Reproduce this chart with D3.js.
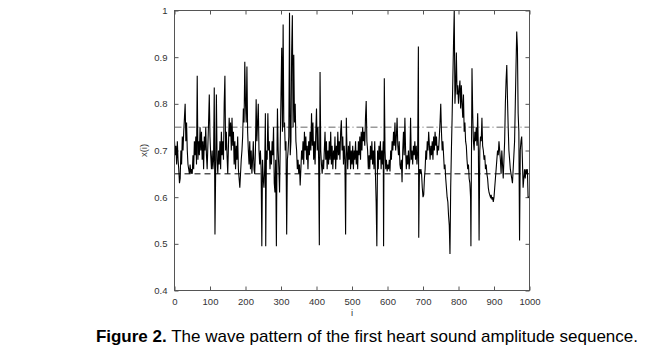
<!DOCTYPE html>
<html><head><meta charset="utf-8">
<script src="https://cdn.jsdelivr.net/npm/d3@7/dist/d3.min.js"></script>
<style>body{margin:0;background:#fff;}svg{display:block;}</style>
</head><body>
<script>
// ---- data ----
const sampleIndex = [0,2,4,6,8,10,12,14,16,18,20,22,24,26,28,30,32,34,36,38,40,42,44,46,48,50,52,54,56,58,60,62,64,66,68,70,72,74,76,78,80,82,84,86,88,90,92,94,96,98,
100,102,104,106,108,110,112,114,116,118,120,122,124,126,128,130,132,134,136,138,140,142,144,146,148,150,152,154,156,158,160,162,164,166,168,170,172,174,176,178,180,182,184,186,188,190,192,194,196,198,
200,202,204,206,208,210,212,214,216,218,220,222,224,226,228,230,232,234,236,238,240,242,244,246,248,250,252,254,256,257,259,261,263,265,267,269,271,273,275,277,279,281,283,285,287,289,290,292,294,296,298,
300,302,304,306,308,310,312,314,316,318,320,322,324,326,328,330,332,334,336,338,340,342,344,346,348,350,352,354,356,358,360,362,364,366,368,370,372,374,376,378,380,382,384,386,388,390,392,394,396,398,
400,402,404,406,408,410,412,414,416,418,420,422,424,426,428,430,432,434,436,438,440,442,444,446,448,450,452,454,456,458,460,462,464,466,468,470,472,474,476,478,480,482,484,486,488,490,492,494,496,498,
500,502,504,506,508,510,512,514,516,518,520,522,524,526,528,530,532,534,536,538,540,542,544,546,548,550,552,554,556,558,560,562,564,566,568,570,572,574,576,578,580,582,584,586,588,589,591,593,595,597,599,
601,603,605,607,609,611,613,615,617,619,621,623,625,627,629,631,633,635,637,639,641,643,645,647,649,651,653,655,657,659,661,663,665,667,669,671,673,675,677,679,681,683,685,687,688,690,692,694,696,698,
700,702,704,706,708,710,712,714,716,718,720,722,724,726,728,730,732,734,736,738,740,742,744,746,748,750,752,754,756,758,760,762,764,766,768,770,772,774,776,778,780,782,784,786,788,790,792,794,796,798,
800,802,804,806,808,810,812,814,816,818,820,822,824,826,828,830,832,834,835,838,840,842,844,846,848,850,852,854,856,858,860,862,864,866,868,870,872,874,876,878,880,882,884,886,888,890,892,894,896,898,
900,902,904,906,908,910,912,914,916,918,920,922,924,926,928,930,932,934,936,938,940,942,944,946,948,950,952,954,956,958,960,962,964,966,968,970,972,974,976,978,980,982,984,986,988,990,992,994,996,1000];

const amplitude = [0.72,0.69,0.71,0.67,0.72,0.68,0.66,0.63,0.64,0.70,0.67,0.73,0.70,0.74,0.77,0.80,0.72,0.76,0.70,0.67,0.66,0.65,0.67,0.65,0.66,0.65,0.69,0.66,0.72,0.69,0.73,0.67,0.86,0.68,0.72,0.69,0.75,0.70,0.74,0.68,0.72,0.66,0.73,0.70,0.75,0.69,0.66,0.71,0.76,0.82,
0.73,0.69,0.66,0.70,0.66,0.68,0.835,0.52,0.66,0.82,0.68,0.65,0.70,0.67,0.72,0.66,0.74,0.69,0.72,0.68,0.80,0.86,0.70,0.74,0.69,0.65,0.71,0.77,0.73,0.76,0.70,0.77,0.71,0.74,0.67,0.72,0.66,0.71,0.68,0.73,0.66,0.64,0.62,0.65,0.68,0.70,0.73,0.79,0.76,0.89,
0.80,0.76,0.88,0.74,0.70,0.67,0.72,0.66,0.70,0.65,0.68,0.72,0.66,0.65,0.70,0.81,0.72,0.76,0.80,0.70,0.67,0.70,0.66,0.495,0.68,0.64,0.62,0.66,0.78,0.495,0.70,0.68,0.78,0.70,0.72,0.66,0.70,0.67,0.72,0.69,0.75,0.63,0.61,0.68,0.495,0.72,0.79,0.70,0.66,0.61,0.72,
0.82,0.92,0.74,0.97,0.75,0.76,0.70,0.72,0.52,0.68,0.70,0.73,0.995,0.69,0.72,0.91,0.99,0.75,0.905,0.76,0.80,0.72,0.70,0.66,0.68,0.65,0.67,0.625,0.66,0.70,0.68,0.72,0.67,0.74,0.70,0.73,0.68,0.71,0.66,0.72,0.69,0.74,0.70,0.78,0.71,0.76,0.68,0.72,0.67,0.74,
0.79,0.70,0.75,0.68,0.497,0.868,0.70,0.67,0.65,0.68,0.66,0.70,0.74,0.68,0.72,0.66,0.70,0.67,0.72,0.68,0.74,0.67,0.71,0.66,0.70,0.68,0.73,0.66,0.71,0.68,0.74,0.69,0.72,0.68,0.74,0.765,0.70,0.73,0.67,0.71,0.68,0.52,0.77,0.70,0.66,0.71,0.68,0.72,0.66,0.70,
0.67,0.71,0.66,0.70,0.68,0.72,0.67,0.70,0.66,0.72,0.69,0.73,0.68,0.74,0.70,0.75,0.72,0.74,0.71,0.77,0.806,0.72,0.70,0.66,0.69,0.66,0.71,0.68,0.72,0.67,0.70,0.66,0.72,0.65,0.59,0.495,0.70,0.66,0.71,0.68,0.72,0.66,0.70,0.67,0.72,0.495,0.855,0.70,0.66,0.68,0.655,
0.67,0.66,0.68,0.655,0.70,0.68,0.72,0.70,0.74,0.71,0.76,0.70,0.73,0.77,0.71,0.69,0.72,0.67,0.66,0.68,0.632,0.70,0.74,0.69,0.77,0.70,0.66,0.69,0.67,0.70,0.66,0.68,0.77,0.68,0.70,0.67,0.71,0.69,0.72,0.68,0.71,0.67,0.70,0.923,0.513,0.66,0.65,0.66,0.65,0.62,
0.60,0.605,0.64,0.66,0.70,0.68,0.72,0.70,0.74,0.71,0.68,0.71,0.69,0.72,0.68,0.73,0.70,0.74,0.71,0.73,0.69,0.71,0.70,0.73,0.76,0.80,0.74,0.70,0.72,0.69,0.66,0.67,0.64,0.62,0.60,0.59,0.56,0.54,0.478,0.62,0.70,0.77,0.85,0.93,1.0,0.80,0.84,0.91,0.82,0.84,
0.80,0.83,0.85,0.79,0.84,0.80,0.77,0.82,0.74,0.76,0.72,0.71,0.68,0.66,0.67,0.64,0.63,0.60,0.495,0.876,0.78,0.72,0.70,0.74,0.72,0.75,0.71,0.78,0.70,0.507,0.70,0.73,0.72,0.77,0.71,0.70,0.68,0.69,0.66,0.67,0.65,0.64,0.62,0.61,0.605,0.60,0.605,0.595,0.60,0.59,
0.60,0.62,0.64,0.66,0.68,0.70,0.69,0.72,0.70,0.68,0.65,0.70,0.67,0.64,0.68,0.72,0.80,0.85,0.883,0.81,0.75,0.70,0.68,0.66,0.65,0.64,0.63,0.66,0.69,0.72,0.80,0.88,0.955,0.92,0.78,0.74,0.507,0.70,0.72,0.73,0.68,0.62,0.64,0.66,0.64,0.66,0.65,0.66,0.60,0.60];

const xTicks = [0,100,200,300,400,500,600,700,800,900,1000];
const yTicks = [0.4,0.5,0.6,0.7,0.8,0.9,1];
const upperLevel = 0.75;
const lowerLevel = 0.65;
const xLabel = "i";
const yLabel = "x(i)";
const captionBold = "Figure 2.";
const captionText = " The wave pattern of the first heart sound amplitude sequence.";

// ---- drawing ----
const W = 652, H = 355;
const L = 174.5, R = 529.5, T = 10.5, B = 290.5;
const svg = d3.select("body").append("svg").attr("width", W).attr("height", H);

const x = d3.scaleLinear().domain([0, 1000]).range([L, R]);
const y = d3.scaleLinear().domain([0.4, 1]).range([B, T]);

const axisColor = "#555";
const labelColor = "#333";
const tickFont = "9.5px 'Liberation Sans', Arial, sans-serif";

function styleAxis(g) {
  g.select(".domain").remove();
  g.selectAll(".tick line").attr("stroke", axisColor);
  g.selectAll(".tick text").attr("fill", labelColor).style("font", tickFont);
}

svg.append("g").attr("transform", `translate(0,${B})`)
  .call(d3.axisBottom(x).tickValues(xTicks).tickSizeInner(-4).tickSizeOuter(0).tickPadding(8).tickFormat(d3.format("d")))
  .call(styleAxis);
svg.append("g").attr("transform", `translate(0,${T})`)
  .call(d3.axisTop(x).tickValues(xTicks).tickSizeInner(-4).tickSizeOuter(0).tickFormat(""))
  .call(styleAxis);
svg.append("g").attr("transform", `translate(${L},0)`)
  .call(d3.axisLeft(y).tickValues(yTicks).tickSizeInner(-4).tickSizeOuter(0).tickPadding(7).tickFormat(d => d === 1 ? "1" : d3.format(".1f")(d)))
  .call(styleAxis);
svg.append("g").attr("transform", `translate(${R},0)`)
  .call(d3.axisRight(y).tickValues(yTicks).tickSizeInner(-4).tickSizeOuter(0).tickFormat(""))
  .call(styleAxis);

// reference levels
svg.append("line").attr("x1", x(0)).attr("x2", x(1000)).attr("y1", y(upperLevel)).attr("y2", y(upperLevel))
  .attr("stroke", "#666").attr("stroke-width", 1).attr("stroke-dasharray", "7,3,1,3");
svg.append("line").attr("x1", x(0)).attr("x2", x(1000)).attr("y1", y(lowerLevel)).attr("y2", y(lowerLevel))
  .attr("stroke", "#000").attr("stroke-width", 1).attr("stroke-dasharray", "6,4");

// series
const pts = sampleIndex.map((d, k) => [d, amplitude[k]]);
svg.append("path").datum(pts)
  .attr("fill", "none").attr("stroke", "#000").attr("stroke-width", 1.1)
  .attr("d", d3.line().x(d => x(d[0])).y(d => y(d[1])));

// box
svg.append("rect").attr("x", L).attr("y", T).attr("width", R - L).attr("height", B - T)
  .attr("fill", "none").attr("stroke", axisColor).attr("stroke-width", 1);

// axis labels
svg.append("text").attr("x", (L + R) / 2).attr("y", 316).attr("text-anchor", "middle")
  .attr("fill", labelColor).style("font", tickFont).text(xLabel);
svg.append("text").attr("transform", `translate(147,${(T + B) / 2}) rotate(-90)`).attr("text-anchor", "middle")
  .attr("fill", labelColor).style("font", tickFont).text(yLabel);

// caption
const cap = svg.append("text").attr("x", 638).attr("y", 342).attr("text-anchor", "end")
  .style("font", "17px 'Liberation Sans', Arial, sans-serif").attr("fill", "#000");
cap.append("tspan").attr("font-weight", "bold").text(captionBold);
cap.append("tspan").text(captionText);
</script>
</body></html>
